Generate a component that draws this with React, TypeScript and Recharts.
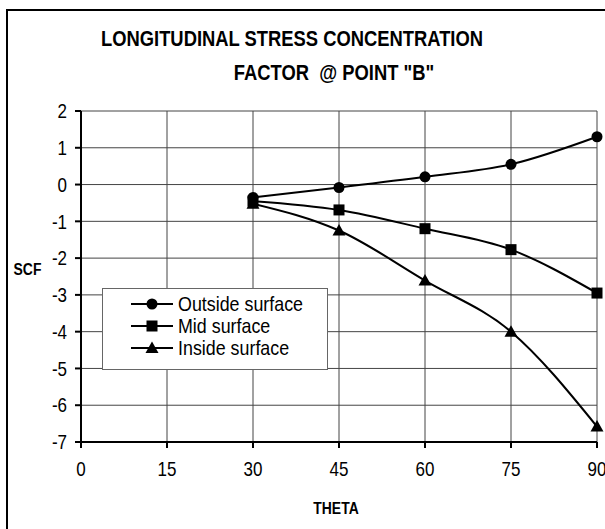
import { LineChart, Line, XAxis, YAxis, CartesianGrid, Legend } from 'recharts';

const theta = [30, 45, 60, 75, 90];
const outsideSurface = [-0.35, -0.08, 0.21, 0.55, 1.3];
const midSurface = [-0.45, -0.69, -1.2, -1.77, -2.95];
const insideSurface = [-0.52, -1.25, -2.61, -4.0, -6.58];
const xTicks = [0, 15, 30, 45, 60, 75, 90];
const yTicks = [-7, -6, -5, -4, -3, -2, -1, 0, 1, 2];

const FONT = '"Liberation Sans", Arial, sans-serif';
// no narrow font installed, so text gets squeezed horizontally
const SQUEEZE = 0.85;

const data = theta.map((t, i) => ({
  theta: t,
  outside: outsideSurface[i],
  mid: midSurface[i],
  inside: insideSurface[i],
}));

const series = [
  { key: 'outside', name: 'Outside surface', shape: 'circle' },
  { key: 'mid', name: 'Mid surface', shape: 'square' },
  { key: 'inside', name: 'Inside surface', shape: 'triangle' },
];

function Marker({ cx, cy, shape }: { cx: number; cy: number; shape: string }) {
  if (cx == null || cy == null) return null;
  if (shape === 'circle') return <circle cx={cx} cy={cy} r={5.5} fill="#000" />;
  if (shape === 'square') return <rect x={cx - 5.5} y={cy - 5.5} width={11} height={11} fill="#000" />;
  return <path d={`M${cx},${cy - 6.5} L${cx + 6.5},${cy + 5} L${cx - 6.5},${cy + 5} Z`} fill="#000" />;
}

const XTick = (props: any) => {
  const { x, y, payload } = props;
  return (
    <g transform={`translate(${x},${y})`}>
      <text transform={`scale(${SQUEEZE},1)`} textAnchor="middle" dy="0.71em" fill="#000" fontSize={20} fontFamily={FONT}>
        {payload.value}
      </text>
    </g>
  );
};

const YTick = (props: any) => {
  const { x, y, payload } = props;
  return (
    <g transform={`translate(${x},${y})`}>
      <text transform={`scale(${SQUEEZE},1)`} textAnchor="end" dy="0.36em" fill="#000" fontSize={20} fontFamily={FONT}>
        {payload.value}
      </text>
    </g>
  );
};

const AxisTitle = ({ viewBox, value, dx, dy }: any) => {
  const { x, y, width, height } = viewBox;
  return (
    <g transform={`translate(${x + width / 2 + dx},${y + height / 2 + dy})`}>
      <text transform={`scale(0.82,1)`} textAnchor="middle" dy="0.36em" fill="#000" fontSize={17} fontWeight="bold" fontFamily={FONT}>
        {value}
      </text>
    </g>
  );
};

const LegendBox = () => (
  <div
    style={{
      width: 226,
      height: 82,
      boxSizing: 'border-box',
      border: '1px solid #666',
      background: '#fff',
      padding: '4px 0 0 28px',
      fontFamily: FONT,
      fontSize: 21,
      color: '#000',
    }}
  >
    {series.map((s) => (
      <div key={s.key} style={{ display: 'flex', alignItems: 'center', height: 22 }}>
        <svg width={42} height={16} style={{ marginRight: 5 }}>
          <line x1={0} y1={8} x2={42} y2={8} stroke="#000" strokeWidth={2} />
          <Marker cx={21} cy={8} shape={s.shape} />
        </svg>
        <span style={{ display: 'inline-block', transform: `scaleX(${SQUEEZE})`, transformOrigin: 'left center', whiteSpace: 'nowrap' }}>
          {s.name}
        </span>
      </div>
    ))}
  </div>
);

const titleLine = (text: string, top: number, center: number) => (
  <div
    style={{
      position: 'absolute',
      top,
      left: center,
      transform: 'translateX(-50%) scaleX(0.835)',
      whiteSpace: 'pre',
      fontFamily: FONT,
      fontWeight: 'bold',
      fontSize: 22,
      lineHeight: '26px',
      color: '#000',
    }}
  >
    {text}
  </div>
);

export default function App() {
  return (
    <div style={{ position: 'relative', width: 605, height: 529, overflow: 'hidden', background: '#fff' }}>
      <style>{'body{margin:0}'}</style>
      <div
        style={{
          position: 'absolute',
          left: 6,
          top: 9,
          width: 640,
          height: 560,
          border: '2px solid #000',
        }}
      />
      {titleLine('LONGITUDINAL STRESS CONCENTRATION', 26, 292)}
      {titleLine('FACTOR  @ POINT "B"', 60, 334)}
      <LineChart
        width={605}
        height={529}
        data={data}
        margin={{ top: 111, right: 8, bottom: 0, left: 0 }}
        style={{ position: 'absolute', left: 0, top: 0 }}
      >
        <CartesianGrid stroke="#444" strokeWidth={1} />
        <XAxis
          dataKey="theta"
          type="number"
          domain={[0, 90]}
          ticks={xTicks}
          height={87}
          stroke="#000"
          strokeWidth={2}
          tickSize={6}
          tickMargin={14}
          tick={<XTick />}
          label={<AxisTitle value="THETA" dx={-3} dy={22} />}
        />
        <YAxis
          type="number"
          domain={[-7, 2]}
          ticks={yTicks}
          width={81}
          stroke="#000"
          strokeWidth={2}
          tickSize={6}
          tickMargin={8}
          tick={<YTick />}
          label={<AxisTitle value="SCF" dx={-13} dy={-8} />}
        />
        <Legend
          layout="vertical"
          align="center"
          verticalAlign="middle"
          content={<LegendBox />}
          wrapperStyle={{ left: 102, top: 288, width: 226, height: 82 }}
        />
        {series.map((s) => (
          <Line
            key={s.key}
            type="monotone"
            dataKey={s.key}
            name={s.name}
            stroke="#000"
            strokeWidth={2}
            dot={(p: any) => <Marker key={`${s.key}-${p.index}`} cx={p.cx} cy={p.cy} shape={s.shape} />}
            activeDot={false}
            isAnimationActive={false}
          />
        ))}
      </LineChart>
    </div>
  );
}
